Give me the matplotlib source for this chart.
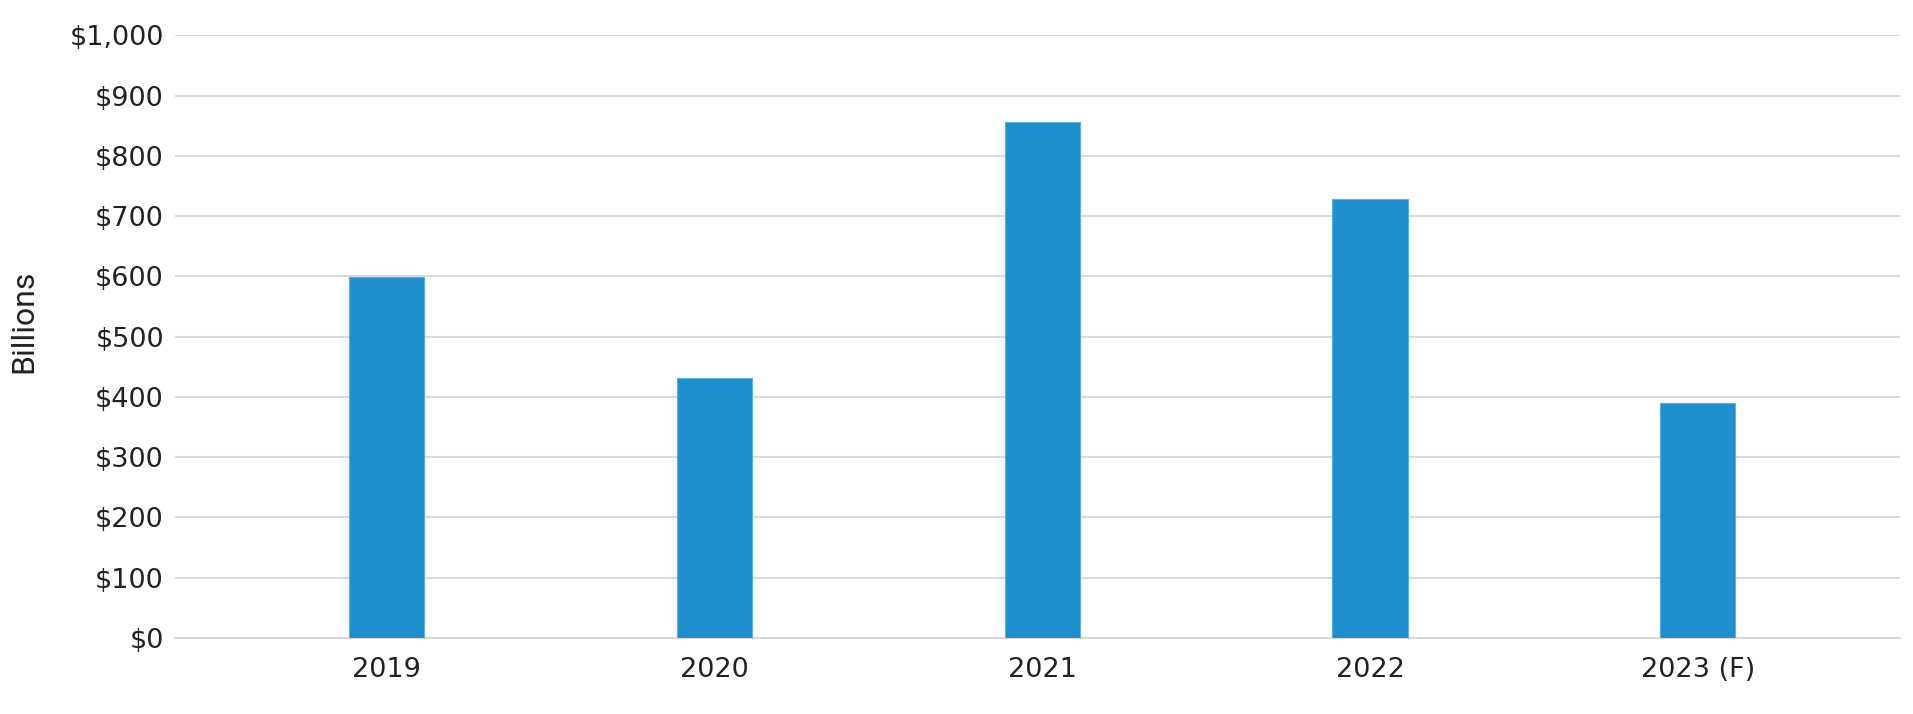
import matplotlib.pyplot as plt
import numpy as np

# data
years = ["2019", "2020", "2021", "2022", "2023 (F)"]
values = [599, 432, 857, 729, 389]
y_ticks = [0, 100, 200, 300, 400, 500, 600, 700, 800, 900, 1000]
y_tick_labels = ["$0", "$100", "$200", "$300", "$400", "$500",
                 "$600", "$700", "$800", "$900", "$1,000"]

plt.rcParams["font.family"] = ["DejaVu Sans"]

fig = plt.figure(figsize=(19.13, 7.14), dpi=100)
ax = fig.add_axes([0.0915, 0.1067, 0.9015, 0.8437])

x = np.arange(len(years))
ax.bar(x, values, width=0.229, color="#1f8ecd", edgecolor="#5aaee0",
       linewidth=0.8, zorder=3)

ax.set_ylim(0, 1000)
ax.set_xlim(-0.646, 4.616)
ax.set_yticks(y_ticks)
ax.set_yticklabels(y_tick_labels)
ax.set_xticks(x)
ax.set_xticklabels(years)
ax.tick_params(axis="both", length=0, labelsize=19.5, colors="#222222")
ax.tick_params(axis="y", pad=8)
ax.tick_params(axis="x", pad=14)

ax.grid(axis="y", color="#d9d9d9", linewidth=1.5, zorder=0)
for side in ["top", "right", "left"]:
    ax.spines[side].set_visible(False)
ax.spines["bottom"].set_color("#d9d9d9")
ax.spines["bottom"].set_linewidth(1.5)

fig.text(0.0125, 0.55, "Billions", rotation=90, ha="center", va="center",
         fontsize=23, color="#222222",
         family=["Liberation Sans Narrow", "Roboto", "DejaVu Sans"])

fig.savefig("out.png", dpi=100)
